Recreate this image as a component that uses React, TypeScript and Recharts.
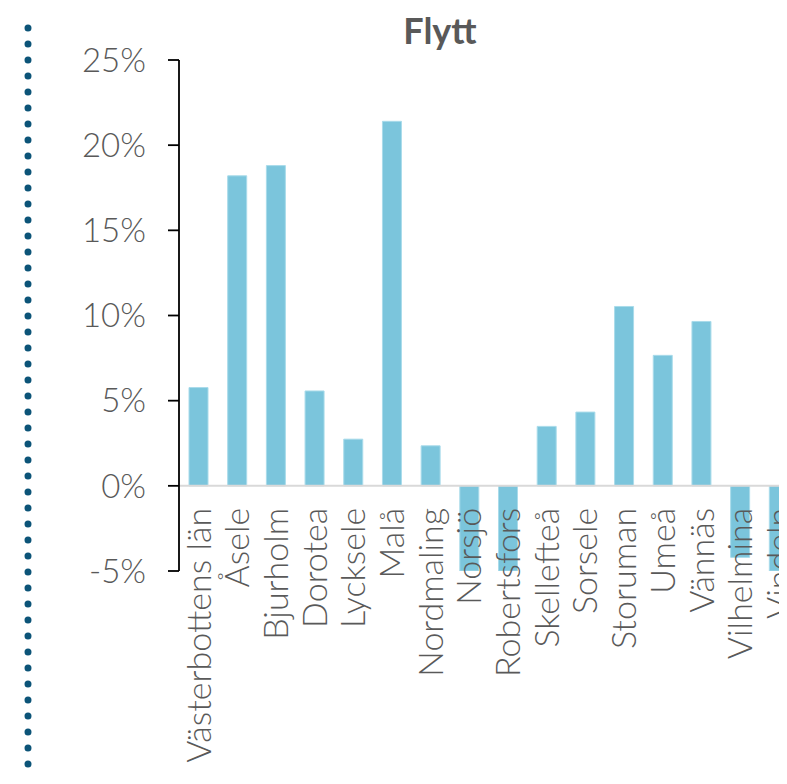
import React from "react";
import { BarChart, Bar, XAxis, YAxis, ReferenceLine } from "recharts";

const municipalities = [
  "Västerbottens län",
  "Åsele",
  "Bjurholm",
  "Dorotea",
  "Lycksele",
  "Malå",
  "Nordmaling",
  "Norsjö",
  "Robertsfors",
  "Skellefteå",
  "Sorsele",
  "Storuman",
  "Umeå",
  "Vännäs",
  "Vilhelmina",
  "Vindeln",
];

// flytt, procent
const flyttValues = [5.77, 18.2, 18.8, 5.57, 2.74, 21.4, 2.35, -5.0, -5.0, 3.49, 4.33, 10.53, 7.66, 9.65, -4.2, -5.0];

const yTicks = [-5, 0, 5, 10, 15, 20, 25];

const data = municipalities.map((name, i) => ({ name, value: flyttValues[i] }));

const TEXT = "#595959";
const BAR = "#7bc5dc";
const FONT = "Lato, 'Open Sans', sans-serif";

const PLOT_TOP = 60;
const PLOT_BOTTOM = 571;
const zeroY = PLOT_TOP + ((PLOT_BOTTOM - PLOT_TOP) * 25) / 30;

function CategoryTick(props: any) {
  const { x, payload } = props;
  const y = zeroY + 22;
  return (
    <text
      x={x}
      y={y}
      dy="0.36em"
      transform={`rotate(-90, ${x}, ${y})`}
      textAnchor="end"
      fill={TEXT}
      fontSize={34}
      fontWeight={300}
      fontFamily={FONT}
    >
      {payload.value}
    </text>
  );
}

export default function App() {
  return (
    <div
      style={{
        position: "relative",
        width: 787,
        height: 784,
        margin: -8,
        overflow: "hidden",
        background: "#fff",
        fontFamily: FONT,
      }}
    >
      {/* dotted rule on the left */}
      <svg style={{ position: "absolute", left: 0, top: 0 }} width={60} height={784}>
        <line
          x1={28}
          y1={28}
          x2={28}
          y2={800}
          stroke="#0c5478"
          strokeWidth={7}
          strokeLinecap="round"
          strokeDasharray="0 16"
        />
      </svg>

      <div
        style={{
          position: "absolute",
          left: 340,
          width: 200,
          top: 8,
          textAlign: "center",
          fontSize: 36,
          fontWeight: 700,
          color: TEXT,
          lineHeight: "44px",
        }}
      >
        Flytt
      </div>

      <div style={{ position: "absolute", left: 0, top: 0 }}>
        <BarChart
          width={798}
          height={784}
          data={data}
          margin={{ top: PLOT_TOP, right: 0, bottom: 0, left: 0 }}
          barCategoryGap={0}
        >
          <YAxis
            domain={[-5, 25]}
            ticks={yTicks}
            allowDataOverflow
            width={179}
            tickFormatter={(v) => `${v}%`}
            axisLine={{ stroke: "#000", strokeWidth: 1.8 }}
            tickLine={{ stroke: "#000", strokeWidth: 1.8 }}
            tickSize={11}
            tickMargin={22}
            tick={{ fill: TEXT, fontSize: 33, fontWeight: 300, fontFamily: FONT }}
          />
          <Bar
            dataKey="value"
            fill={BAR}
            stroke="#a9dbea"
            strokeWidth={1}
            barSize={19}
            isAnimationActive={false}
          />
          <ReferenceLine y={0} stroke="#d9d9d9" strokeWidth={2} />
          <XAxis
            dataKey="name"
            axisLine={false}
            tickLine={false}
            tickSize={0}
            tickMargin={0}
            height={784 - PLOT_BOTTOM}
            interval={0}
            tick={<CategoryTick />}
          />
        </BarChart>
      </div>
    </div>
  );
}
